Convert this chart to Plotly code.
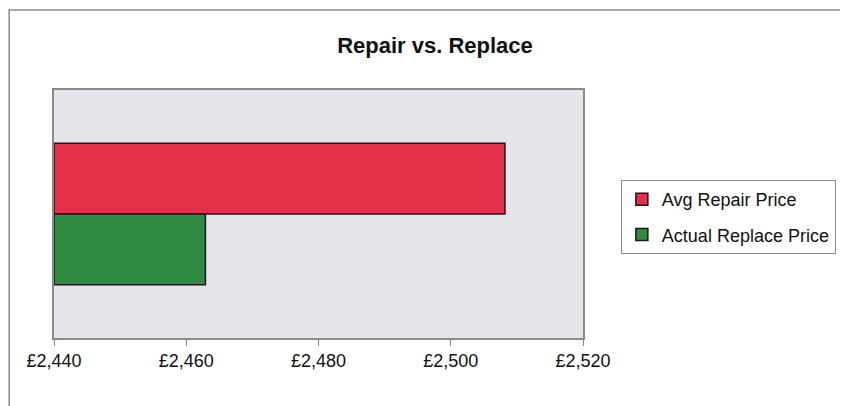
import plotly.graph_objects as go

categories = [""]
series_names = ["Avg Repair Price", "Actual Replace Price"]
repair_values = [2508.2]
replace_values = [2462.9]
tick_values = [2440, 2460, 2480, 2500, 2520]
tick_labels = ["£2,440", "£2,460", "£2,480", "£2,500", "£2,520"]

fig = go.Figure()
fig.add_trace(go.Bar(
    y=categories, x=[v - 2440 for v in repair_values], base=2440, orientation="h",
    name=series_names[0], legendgroup="a",
    marker=dict(color="#e5304a", line=dict(color="#1a1a1a", width=1.5)),
))
fig.add_trace(go.Bar(
    y=categories, x=[v - 2440 for v in replace_values], base=2440, orientation="h",
    name=series_names[1], legendgroup="b",
    marker=dict(color="#2f8a42", line=dict(color="#1a1a1a", width=1.5)),
))

# page body has an 8px margin: figure placed at (8, 8)
OFF = 8
fig.update_layout(
    width=840, height=398,
    margin=dict(l=54 - OFF, r=840 - (585 - OFF), t=90 - OFF, b=398 - (338 - OFF)),
    paper_bgcolor="white", plot_bgcolor="#e5e6eb",
    barmode="group", bargap=0.43, bargroupgap=0,
    title=dict(text="<b>Repair vs. Replace</b>", x=(435 - OFF) / 840, xanchor="center",
               y=1 - (45 - OFF) / 398, yanchor="middle",
               font=dict(family="Liberation Sans, Arial", size=22, color="#111111")),
    font=dict(family="Liberation Sans, Arial", color="#111111"),
    xaxis=dict(range=[2440, 2520], tickvals=tick_values, ticktext=tick_labels,
               showgrid=False, zeroline=False, showline=True, linecolor="#8a8a8a", linewidth=1.5,
               mirror=True, ticks="outside", ticklen=6, tickcolor="#8a8a8a",
               tickfont=dict(size=18, family="Liberation Sans, Arial", color="#111111")),
    yaxis=dict(autorange="reversed", showgrid=False, zeroline=False, showline=True,
               linecolor="#8a8a8a", linewidth=1.5, mirror=True, showticklabels=False, ticks=""),
    legend=dict(x=(623 - 54) / 531, y=(338 - 180) / 248, xanchor="left", yanchor="top",
                bordercolor="#8a8a8a", borderwidth=1, bgcolor="white",
                font=dict(size=18, family="Liberation Sans, Arial", color="#111111"),
                itemwidth=30, tracegroupgap=9, traceorder="grouped"),
    showlegend=True,
    shapes=[dict(type="rect", xref="paper", yref="paper",
                 x0=(9 - 54) / 531, x1=(870 - 54) / 531,
                 y0=(338 - 430) / 248, y1=(338 - 10) / 248,
                 line=dict(color="#8a8a8a", width=1.5), fillcolor="rgba(0,0,0,0)", layer="below")],
)

fig.write_html("out.html")
